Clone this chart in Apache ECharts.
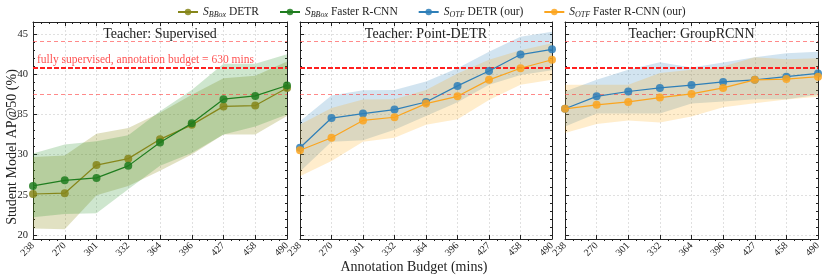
<!DOCTYPE html>
<html>
<head>
<meta charset="utf-8">
<script src="https://cdn.jsdelivr.net/npm/echarts@6/dist/echarts.min.js"></script>
<style>html,body{margin:0;padding:0;background:#fff}#c{width:830px;height:278px}</style>
</head>
<body>
<div id="c"></div>
<script>
// ---- data ----
const categories = ['238','270','301','332','364','396','427','458','490'];
const panelTitles = ['Teacher: Supervised','Teacher: Point-DETR','Teacher: GroupRCNN'];
const refLines = [44.1, 40.85, 37.55];
const yTicks = [20,25,30,35,40,45];

// Teacher: Supervised
const supDetr    = [25.1,25.2,28.7,29.5,31.9,33.7,36.0,36.1,38.3];
const supDetrLo  = [20.8,20.7,24.95,26.1,28.0,30.0,32.5,32.5,34.8];
const supDetrHi  = [29.7,29.9,32.6,33.3,35.2,37.45,39.5,39.8,41.6];
const supFrcnn   = [26.1,26.8,27.1,28.6,31.5,33.9,36.9,37.3,38.6];
const supFrcnnLo = [22.2,22.6,22.7,25.7,28.6,30.2,32.5,33.5,35.0];
const supFrcnnHi = [30.15,31.25,31.65,32.4,35.4,38.05,41.3,41.3,42.5];

// Teacher: Point-DETR
const pdDetr    = [30.85,34.55,35.1,35.6,36.55,38.55,40.4,42.45,43.1];
const pdDetrLo  = [27.9,31.6,31.8,33.1,34.8,36.5,38.7,39.9,40.5];
const pdDetrHi  = [34.15,37.35,38.0,38.05,39.1,40.75,42.8,44.65,45.3];
const pdFrcnn   = [30.55,32.1,34.25,34.65,36.35,37.25,39.3,40.75,41.8];
const pdFrcnnLo = [27.3,29.2,31.6,32.1,33.7,34.4,36.8,38.7,39.3];
const pdFrcnnHi = [33.75,35.8,36.85,36.9,38.05,40.1,41.8,43.0,43.85];

// Teacher: GroupRCNN
const grDetr    = [35.7,37.25,37.85,38.3,38.65,39.05,39.3,39.7,40.1];
const grDetrLo  = [33.5,35.1,35.1,35.1,36.35,36.6,36.9,36.9,37.45];
const grDetrHi  = [37.85,39.3,40.55,41.5,40.85,41.45,42.1,42.6,42.8];
const grFrcnn   = [35.7,36.2,36.55,37.1,37.55,38.3,39.3,39.4,39.7];
const grFrcnnLo = [32.7,33.8,34.25,34.0,34.75,35.9,36.4,36.85,37.2];
const grFrcnnHi = [38.7,38.7,38.7,40.15,40.55,40.95,42.1,41.85,42.0];

const seriesNames = ['SBBox DETR','SBBox Faster R-CNN','SOTF DETR (our)','SOTF Faster R-CNN (our)'];

// ---- styling / layout ----
const SERIF = 'Liberation Serif';
const colors = {
  'SBBox DETR': '#86861a',
  'SBBox Faster R-CNN': '#1f7d1f',
  'SOTF DETR (our)': '#2e7fb8',
  'SOTF Faster R-CNN (our)': '#fba51f'
};
const bandColors = {
  'SBBox DETR': 'rgba(128,128,0,0.24)',
  'SBBox Faster R-CNN': 'rgba(34,139,34,0.22)',
  'SOTF DETR (our)': 'rgba(31,119,180,0.2)',
  'SOTF Faster R-CNN (our)': 'rgba(255,165,0,0.2)'
};
const panels = [
  {lines: [[seriesNames[0], supDetr, supDetrLo, supDetrHi],[seriesNames[1], supFrcnn, supFrcnnLo, supFrcnnHi]]},
  {lines: [[seriesNames[2], pdDetr, pdDetrLo, pdDetrHi],[seriesNames[3], pdFrcnn, pdFrcnnLo, pdFrcnnHi]]},
  {lines: [[seriesNames[2], grDetr, grDetrLo, grDetrHi],[seriesNames[3], grFrcnn, grFrcnnLo, grFrcnnHi]]}
];
const grids = [
  {left: 33, top: 22, width: 254, height: 217},
  {left: 300, top: 22, width: 252, height: 217},
  {left: 565, top: 22, width: 253, height: 217}
];
const YMIN = 19.5, YMAX = 46.5;
const minorY = [];
for (let v = 20; v <= 46; v++) minorY.push(v);

const xAxes = [], yAxes = [], series = [], graphics = [];
const lineCol = '#222';
grids.forEach((g, gi) => {
  xAxes.push({
    type: 'category', gridIndex: gi, data: categories, boundaryGap: false, position: 'bottom',
    axisLine: {show: true, onZero: false, lineStyle: {color: lineCol, width: 1}},
    axisTick: {show: true, inside: true, length: 4, lineStyle: {color: lineCol}},
    axisLabel: {rotate: 45, fontFamily: SERIF, fontSize: 10, color: '#222', margin: 5, interval: 0},
    splitLine: {show: true, lineStyle: {color: '#d9d9d9', type: [2, 2], width: 0.8}}
  });
  xAxes.push({
    type: 'value', gridIndex: gi, position: 'bottom', min: 0, max: 8, interval: 1,
    axisLine: {show: false}, axisLabel: {show: false}, axisTick: {show: false},
    minorTick: {show: true, splitNumber: 4, length: 2, lineStyle: {color: lineCol}},
    splitLine: {show: false}
  });
  xAxes.push({
    type: 'value', gridIndex: gi, position: 'top', min: 0, max: 8, interval: 1,
    axisLine: {show: true, lineStyle: {color: lineCol, width: 1}}, axisLabel: {show: false},
    axisTick: {show: true, inside: true, length: 4, lineStyle: {color: lineCol}},
    minorTick: {show: true, splitNumber: 4, length: 2, lineStyle: {color: lineCol}},
    splitLine: {show: false}
  });
  yAxes.push({
    type: 'value', gridIndex: gi, position: 'left', min: YMIN, max: YMAX,
    axisLine: {show: true, lineStyle: {color: lineCol, width: 1}},
    axisTick: {show: true, inside: true, length: 4, customValues: yTicks, lineStyle: {color: lineCol}},
    axisLabel: {show: gi === 0, customValues: yTicks, fontFamily: SERIF, fontSize: 10.5, color: '#222', margin: 5},
    splitLine: {show: true, lineStyle: {color: '#d9d9d9', type: [2, 2], width: 0.8}}
  });
  yAxes.push({
    type: 'value', gridIndex: gi, position: 'left', min: YMIN, max: YMAX,
    axisLine: {show: false}, axisLabel: {show: false},
    axisTick: {show: true, inside: true, length: 2, customValues: minorY, lineStyle: {color: lineCol}},
    splitLine: {show: false}
  });
  yAxes.push({
    type: 'value', gridIndex: gi, position: 'right', min: YMIN, max: YMAX,
    axisLine: {show: true, lineStyle: {color: lineCol, width: 1}}, axisLabel: {show: false},
    axisTick: {show: true, inside: true, length: 2, customValues: minorY, lineStyle: {color: lineCol}},
    splitLine: {show: false}
  });

  const xi = gi * 3, yi = gi * 3;
  panels[gi].lines.forEach(([name, vals, lo, hi], k) => {
    const st = 'band' + gi + '_' + k;
    series.push({
      type: 'line', name: 'band-lo-' + gi + k, xAxisIndex: xi, yAxisIndex: yi, stack: st,
      data: lo, symbol: 'none', lineStyle: {opacity: 0}, silent: true, z: 1
    });
    series.push({
      type: 'line', name: 'band-hi-' + gi + k, xAxisIndex: xi, yAxisIndex: yi, stack: st,
      data: hi.map((h, i) => +(h - lo[i]).toFixed(3)), symbol: 'none', lineStyle: {opacity: 0},
      areaStyle: {color: bandColors[name], opacity: 1}, silent: true, z: 1
    });
  });
  panels[gi].lines.forEach(([name, vals], k) => {
    const s = {
      type: 'line', name: name, xAxisIndex: xi, yAxisIndex: yi, data: vals,
      symbol: 'circle', symbolSize: 8, z: 5 + k,
      lineStyle: {color: colors[name], width: 1.2},
      itemStyle: {color: colors[name], opacity: 0.85}
    };
    if (k === 0) {
      s.markLine = {
        silent: true, symbol: ['none', 'none'], label: {show: false}, z: 3,
        data: [
          {yAxis: refLines[0], lineStyle: {color: 'rgba(255,60,60,0.6)', type: [4, 3], width: 1}},
          {yAxis: refLines[1], lineStyle: {color: '#ff2020', type: [5, 2], width: 1.8}},
          {yAxis: refLines[2], lineStyle: {color: 'rgba(255,60,60,0.6)', type: [4, 3], width: 1}}
        ]
      };
    }
    series.push(s);
  });

  graphics.push({
    type: 'text', x: g.left + g.width / 2, y: 34, z: 10,
    style: {text: panelTitles[gi], fontFamily: SERIF, fontSize: 14, fill: '#222', align: 'center', verticalAlign: 'middle'}
  });
});

graphics.push({
  type: 'text', x: 37, y: 60, z: 10,
  style: {text: 'fully supervised, annotation budget = 630 mins', fontFamily: SERIF, fontSize: 11.5, fill: 'rgba(255,50,50,0.85)', verticalAlign: 'middle'}
});
graphics.push({
  type: 'text', x: 414, y: 267, z: 10,
  style: {text: 'Annotation Budget (mins)', fontFamily: SERIF, fontSize: 14, fill: '#222', align: 'center', verticalAlign: 'middle'}
});
graphics.push({
  type: 'text', x: 12, y: 147, rotation: Math.PI / 2, z: 10,
  style: {text: 'Student Model AP@50 (%)', fontFamily: SERIF, fontSize: 14, fill: '#222', align: 'center', verticalAlign: 'middle'}
});

const legendRich = {
  s: {fontFamily: SERIF, fontStyle: 'italic', fontSize: 11.5, color: '#222', lineHeight: 13},
  sub: {fontFamily: SERIF, fontStyle: 'italic', fontSize: 8, color: '#222', lineHeight: 7, verticalAlign: 'bottom'},
  t: {fontFamily: SERIF, fontSize: 11.5, color: '#222', lineHeight: 13}
};
const legendText = {
  'SBBox DETR': '{s|S}{sub|BBox}{t| DETR}',
  'SBBox Faster R-CNN': '{s|S}{sub|BBox}{t| Faster R-CNN}',
  'SOTF DETR (our)': '{s|S}{sub|OTF}{t| DETR (our)}',
  'SOTF Faster R-CNN (our)': '{s|S}{sub|OTF}{t| Faster R-CNN (our)}'
};

const chart = echarts.init(document.getElementById('c'), null, {renderer: 'canvas'});
chart.setOption({
  animation: false,
  backgroundColor: '#fff',
  grid: grids,
  xAxis: xAxes,
  yAxis: yAxes,
  legend: {
    data: seriesNames, top: 1, left: 172, itemWidth: 20, itemHeight: 8, itemGap: 20,
    formatter: n => legendText[n], textStyle: {rich: legendRich}
  },
  graphic: graphics,
  series: series
});
</script>
</body>
</html>
